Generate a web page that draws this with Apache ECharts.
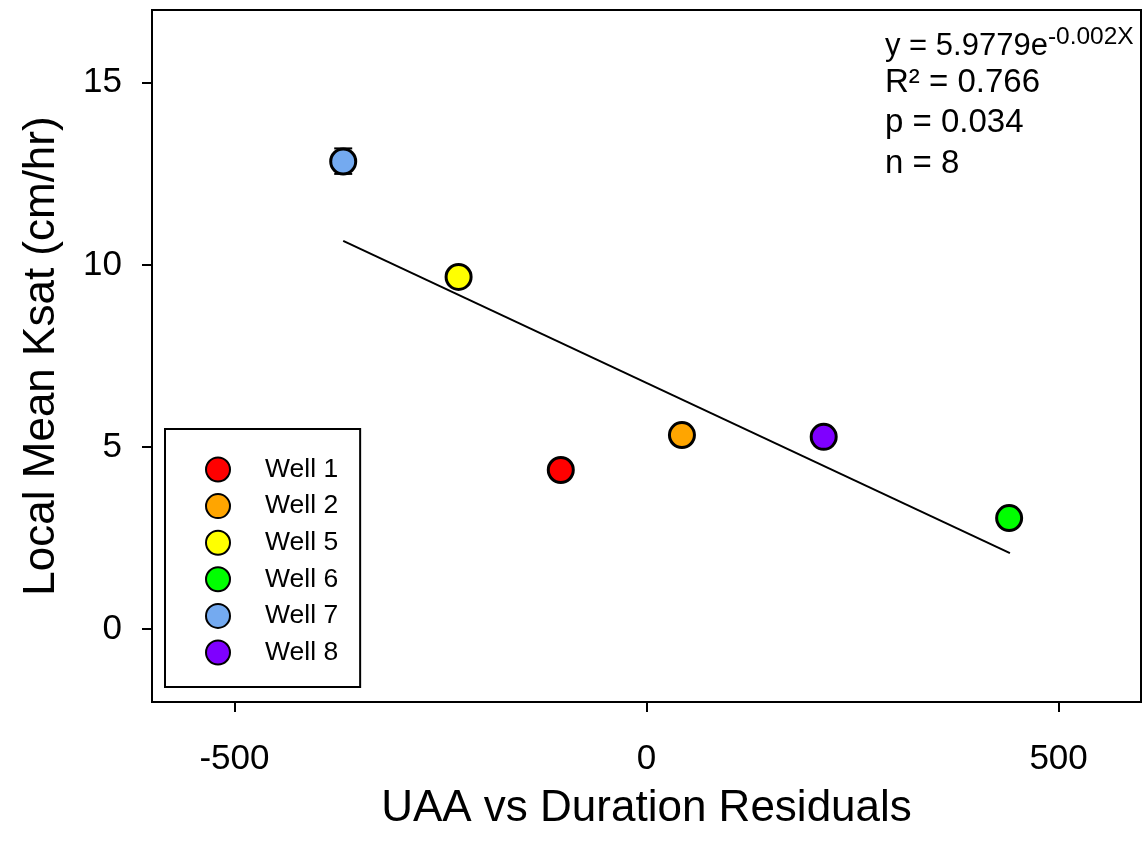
<!DOCTYPE html>
<html>
<head>
<meta charset="utf-8">
<script src="https://cdn.jsdelivr.net/npm/echarts@6/dist/echarts.min.js"></script>
<style>
html,body{margin:0;padding:0;background:#fff;}
#chart{width:1143px;height:846px;}
</style>
</head>
<body>
<div id="chart"></div>
<script>
// Data
const wellNames = ['Well 1', 'Well 2', 'Well 5', 'Well 6', 'Well 7', 'Well 8'];
const wellX = [-104, 43, -228, 440, -368, 215];
const wellY = [4.37, 5.33, 9.67, 3.05, 12.84, 5.28];
const wellColors = ['#ff0000', '#ffa500', '#ffff00', '#00ff00', '#74aaf0', '#7f00ff'];
// vertical error bar visible on Well 7 only
const errX = [-368];
const errLow = [12.50];
const errHigh = [13.20];
const trendX = [-368, 441];
const trendY = [10.66, 2.09];
const xTicks = [-500, 0, 500];
const yTicks = [0, 5, 10, 15];
const statsLines = ['R² = 0.766', 'p = 0.034', 'n = 8'];

const FONT = '"Liberation Sans", Arial, sans-serif';

const series = wellNames.map((name, i) => ({
  name: name,
  type: 'scatter',
  data: [[wellX[i], wellY[i]]],
  symbol: 'circle',
  symbolSize: 25,
  itemStyle: { color: wellColors[i], borderColor: '#000', borderWidth: 3, opacity: 1 },
  z: 5
}));

series.push({
  name: 'trend',
  type: 'line',
  data: trendX.map((x, i) => [x, trendY[i]]),
  showSymbol: false,
  symbol: 'none',
  lineStyle: { color: '#000', width: 2 },
  z: 3,
  silent: true
});

series.push({
  name: 'err',
  type: 'custom',
  z: 4,
  silent: true,
  data: errX.map((x, i) => [x, errLow[i], errHigh[i]]),
  renderItem: function (params, api) {
    const lo = api.coord([api.value(0), api.value(1)]);
    const hi = api.coord([api.value(0), api.value(2)]);
    const hw = 9;
    const st = { stroke: '#000', lineWidth: 2 };
    return {
      type: 'group',
      children: [
        { type: 'line', shape: { x1: lo[0], y1: lo[1], x2: hi[0], y2: hi[1] }, style: st },
        { type: 'line', shape: { x1: lo[0] - hw, y1: lo[1], x2: lo[0] + hw, y2: lo[1] }, style: st },
        { type: 'line', shape: { x1: hi[0] - hw, y1: hi[1], x2: hi[0] + hw, y2: hi[1] }, style: st }
      ]
    };
  }
});

const chart = echarts.init(document.getElementById('chart'));
chart.setOption({
  animation: false,
  backgroundColor: '#fff',
  grid: { left: 152, right: 2, top: 10, bottom: 144, show: true, borderColor: '#000', borderWidth: 2 },
  xAxis: {
    type: 'value', min: -600, max: 600, interval: 500,
    name: 'UAA vs Duration Residuals', nameLocation: 'middle', nameGap: 85,
    nameTextStyle: { fontFamily: FONT, fontSize: 44, color: '#000' },
    axisLine: { show: true, onZero: false, lineStyle: { color: '#000', width: 2 } },
    axisTick: { show: true, inside: false, length: 10, lineStyle: { color: '#000', width: 2 },
      customValues: xTicks },
    axisLabel: { fontFamily: FONT, fontSize: 35, color: '#000', margin: 40, customValues: xTicks },
    splitLine: { show: false }
  },
  yAxis: {
    type: 'value', min: -2, max: 17,
    name: 'Local Mean Ksat (cm/hr)', nameLocation: 'middle', nameGap: 88,
    nameTextStyle: { fontFamily: FONT, fontSize: 44, color: '#000' },
    axisLine: { show: true, onZero: false, lineStyle: { color: '#000', width: 2 } },
    axisTick: { show: true, inside: false, length: 10, lineStyle: { color: '#000', width: 2 },
      customValues: yTicks },
    axisLabel: { fontFamily: FONT, fontSize: 35, color: '#000', margin: 30, customValues: yTicks },
    splitLine: { show: false }
  },
  legend: {
    data: wellNames,
    orient: 'vertical',
    left: 165, top: 429,
    padding: [27, 22, 21, 40],
    itemWidth: 24, itemHeight: 24, itemGap: 9.6,
    borderColor: '#000', borderWidth: 2,
    icon: 'circle',
    textStyle: { fontFamily: FONT, fontSize: 26.5, lineHeight: 24, color: '#000', padding: [0, 0, 0, 30] },
    backgroundColor: '#fff'
  },
  graphic: [
    {
      type: 'text', left: 885, top: 25,
      style: {
        text: '{a|y = 5.9779e}{b|-0.002X}',
        rich: {
          a: { fontFamily: FONT, fontSize: 31, fill: '#000', verticalAlign: 'bottom' },
          b: { fontFamily: FONT, fontSize: 24.5, fill: '#000', verticalAlign: 'top', padding: [0, 0, 12, 0] }
        }
      }
    },
    ...statsLines.map((t, i) => ({
      type: 'text', left: 885, top: 66 + i * 40.5,
      style: { text: t, fontFamily: FONT, fontSize: 33, fill: '#000' }
    }))
  ],
  series: series
});
</script>
</body>
</html>
